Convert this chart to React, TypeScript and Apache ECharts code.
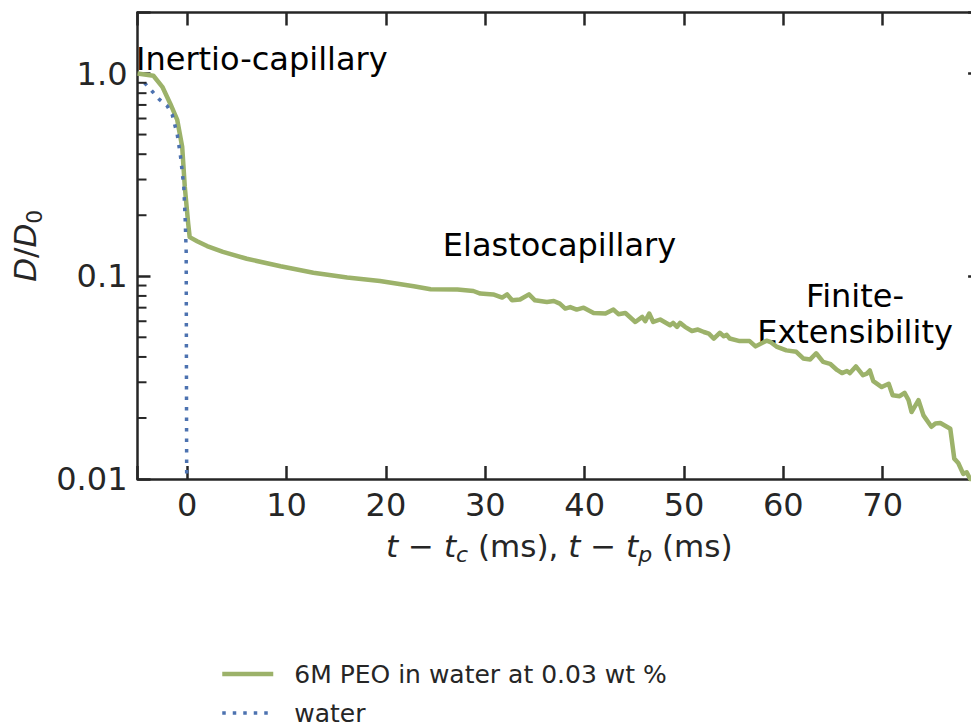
import React, { useEffect, useRef } from "react";
import * as echarts from "echarts";

// ---- data ----
const peoT = [-5, -3.4, -2.5, -1.7, -1.0, -0.5, -0.24, 0.1, 0.25, 1.0, 2.0, 3.6, 6.0, 9.4, 12.7, 16.1, 19.4, 22.8, 24.5, 27.2, 28.8, 29.5, 30.8, 31.7, 32.2, 32.7, 33.5, 34.4, 35.0, 36.2, 36.9, 37.5, 38.05, 38.55, 39.2, 39.9, 40.9, 42.1, 42.9, 43.4, 44.1, 45.1, 45.8, 46.1, 46.5, 46.9, 47.6, 48.6, 48.9, 49.3, 49.6, 50.1, 50.8, 51.4, 52.0, 52.5, 53.0, 53.6, 54.0, 54.3, 54.6, 55.6, 56.6, 57.2, 58.3, 58.7, 59.3, 60.3, 61.3, 62.0, 62.7, 63.3, 64.0, 64.7, 65.4, 65.9, 66.4, 66.7, 67.3, 68.0, 68.4, 68.7, 69.05, 69.9, 70.6, 71.0, 71.7, 72.2, 72.6, 72.9, 73.6, 74.1, 74.9, 75.3, 75.8, 76.8, 77.2, 77.6, 78.1, 78.45, 78.8, 79.2];
const peoD = [1.0, 0.975, 0.86, 0.71, 0.59, 0.434, 0.276, 0.182, 0.156, 0.149, 0.141, 0.132, 0.122, 0.112, 0.104, 0.0986, 0.0947, 0.0893, 0.0863, 0.086, 0.0846, 0.0822, 0.0814, 0.0785, 0.0814, 0.0761, 0.0768, 0.0814, 0.0761, 0.0747, 0.0755, 0.0733, 0.0693, 0.0705, 0.0685, 0.07, 0.0659, 0.0655, 0.0685, 0.065, 0.0659, 0.0595, 0.063, 0.0601, 0.0655, 0.0595, 0.0612, 0.0573, 0.0589, 0.0563, 0.0589, 0.0563, 0.0537, 0.0546, 0.0531, 0.0521, 0.0493, 0.0526, 0.0506, 0.0514, 0.0493, 0.0479, 0.0479, 0.0451, 0.0481, 0.0474, 0.045, 0.0431, 0.0424, 0.0393, 0.0389, 0.0417, 0.0378, 0.037, 0.0345, 0.0333, 0.0341, 0.0333, 0.0359, 0.0325, 0.0331, 0.0343, 0.0304, 0.0284, 0.0295, 0.0259, 0.0256, 0.0266, 0.0245, 0.0214, 0.0245, 0.0206, 0.0181, 0.0188, 0.0189, 0.0177, 0.0126, 0.012, 0.0106, 0.0108, 0.0100, 0.0095];

const waterT = [-4.3, -3.55, -2.86, -2.0, -1.5, -1.0, -0.67, -0.34, -0.2, -0.1, -0.05];
const waterD = [0.9, 0.82, 0.75, 0.69, 0.625, 0.5, 0.39, 0.276, 0.19, 0.132, 0.01];

const seriesNames = ["6M PEO in water at 0.03 wt %", "water"];
const xTickValues = [0, 10, 20, 30, 40, 50, 60, 70];
const yTickValues = [0.01, 0.1, 1];
const yTickLabels = ["0.01", "0.1", "1.0"];
const yMinorTicks = [0.02, 0.03, 0.04, 0.05, 0.06, 0.07, 0.08, 0.09, 0.2, 0.3, 0.4, 0.5, 0.6, 0.7, 0.8, 0.9];
const annotations = ["Inertio-capillary", "Elastocapillary", "Finite-\nExtensibility"];

const X_MIN = -5;
const X_MAX = 79.9;
const Y_MIN = 0.01;
const Y_MAX = 2;

const FONT = "DejaVu Sans";
const INK = "#262626";
const GREEN = "#9CB26A";
const BLUE = "#4C72B0";
const TICK_FS = 32;
const TITLE_FS = 31;

export default function App() {
  const ref = useRef<HTMLDivElement>(null);
  useEffect(() => {
    const chart = echarts.init(ref.current!, null, { renderer: "svg" });
    const axisLine = { show: true, onZero: false, lineStyle: { color: INK, width: 2.5 } };
    const majorTick = { show: true, inside: true, length: 13, lineStyle: { color: INK, width: 2.5 } };
    const xFmt = (v: number) => (xTickValues.includes(v) ? String(v) : "");
    const yFmt = (v: number) => {
      const i = yTickValues.findIndex((t) => Math.abs(Math.log10(t) - Math.log10(v)) < 1e-6);
      return i >= 0 ? yTickLabels[i] : "";
    };
    const greenLine = { color: GREEN, width: 4.5, join: "round" };
    const blueLine = { color: BLUE, width: 3.5, type: [3.5, 7], cap: "butt" };
    const option: any = {
      animation: false,
      textStyle: { fontFamily: FONT },
      grid: { left: 137.5, top: 12.5, width: 843.6, height: 466.5, containLabel: false, outerBoundsMode: "none" },
      xAxis: [
        {
          type: "value", position: "bottom", min: X_MIN, max: X_MAX, splitNumber: 9,
          axisLine, axisTick: majorTick, splitLine: { show: false },
          axisLabel: { margin: 10, fontSize: TICK_FS, color: INK, fontFamily: FONT, lineHeight: 32, formatter: xFmt },
          name: "{i|t} − {i|t}{s|c} (ms), {i|t} − {i|t}{s|p} (ms)",
          nameLocation: "middle", nameGap: 32,
          nameTextStyle: {
            fontSize: TITLE_FS, color: INK, fontFamily: FONT, lineHeight: 40,
            rich: {
              i: { fontStyle: "italic", fontSize: TITLE_FS, lineHeight: 40, color: INK, fontFamily: FONT },
              s: { fontStyle: "italic", fontSize: 22, lineHeight: 22, verticalAlign: "bottom", color: INK, fontFamily: FONT },
            },
          },
        },
        {
          type: "value", position: "top", min: X_MIN, max: X_MAX, splitNumber: 9,
          axisLine, axisTick: majorTick, axisLabel: { show: false }, splitLine: { show: false },
        },
      ],
      yAxis: [
        {
          type: "log", logBase: 10, position: "left", min: Y_MIN, max: Y_MAX,
          axisLine, axisTick: majorTick, splitLine: { show: false }, minorTick: { show: false },
          axisLabel: { margin: 10, fontSize: TICK_FS, color: INK, fontFamily: FONT, formatter: yFmt },
          name: "{i|D}/{i|D}{s|0}",
          nameLocation: "middle", nameRotate: 90, nameGap: 89,
          nameTextStyle: {
            fontSize: TITLE_FS, color: INK, fontFamily: FONT, lineHeight: 40,
            rich: {
              i: { fontStyle: "italic", fontSize: TITLE_FS, lineHeight: 40, color: INK, fontFamily: FONT },
              s: { fontSize: 22, lineHeight: 22, verticalAlign: "bottom", color: INK, fontFamily: FONT },
            },
          },
        },
        {
          type: "log", logBase: 10, position: "right", min: Y_MIN, max: Y_MAX,
          axisLine, axisTick: majorTick, axisLabel: { show: false }, splitLine: { show: false },
        },
      ],
      legend: {
        show: true,
        data: [
          { name: seriesNames[0], lineStyle: { ...greenLine }, itemStyle: { opacity: 0 } },
          { name: seriesNames[1], lineStyle: { ...blueLine }, itemStyle: { opacity: 0 } },
        ],
        orient: "vertical", left: 220, top: 659, height: 120,
        itemWidth: 51, itemHeight: 14, itemGap: 9, padding: 0,
        itemStyle: { opacity: 0 },
        textStyle: { fontSize: 25, color: INK, fontFamily: FONT, lineHeight: 30, padding: [0, 0, 0, 16] },
      },
      series: [
        {
          type: "line", name: seriesNames[0], xAxisIndex: 0, yAxisIndex: 0,
          data: peoT.map((t, i) => [t, peoD[i]]),
          symbol: "none", showSymbol: false,
          lineStyle: greenLine, itemStyle: { color: GREEN },
          z: 2,
        },
        {
          type: "line", name: seriesNames[1], xAxisIndex: 0, yAxisIndex: 0,
          data: waterT.map((t, i) => [t, waterD[i]]),
          symbol: "none", showSymbol: false,
          lineStyle: blueLine, itemStyle: { color: BLUE },
          z: 3,
        },
        {
          type: "custom", name: "minorTicks", xAxisIndex: 0, yAxisIndex: 0, silent: true, clip: false,
          encode: { x: 0, y: 1 },
          data: yMinorTicks.map((v) => [X_MIN, v]),
          renderItem: (params: any, api: any) => {
            const p = api.coord([api.value(0), api.value(1)]);
            return {
              type: "line",
              shape: { x1: p[0], y1: p[1], x2: p[0] + 9, y2: p[1] },
              style: { stroke: INK, lineWidth: 2 },
            };
          },
          z: 5,
        },
      ],
      graphic: [
        {
          type: "text", x: 136, y: 59,
          style: { text: annotations[0], fontSize: TICK_FS, fontFamily: FONT, fill: "#000", align: "left", verticalAlign: "middle" },
        },
        {
          type: "text", x: 559.5, y: 245,
          style: { text: annotations[1], fontSize: TICK_FS, fontFamily: FONT, fill: "#000", align: "center", verticalAlign: "middle" },
        },
        {
          type: "text", x: 855, y: 314,
          style: { text: annotations[2], fontSize: TICK_FS, fontFamily: FONT, fill: "#000", align: "center", verticalAlign: "middle", lineHeight: 36 },
        },
      ],
    };
    chart.setOption(option);
    return () => chart.dispose();
  }, []);
  return (
    <div
      ref={ref}
      style={{ position: "fixed", left: 0, top: 0, width: 971, height: 723, background: "#fff" }}
    />
  );
}
